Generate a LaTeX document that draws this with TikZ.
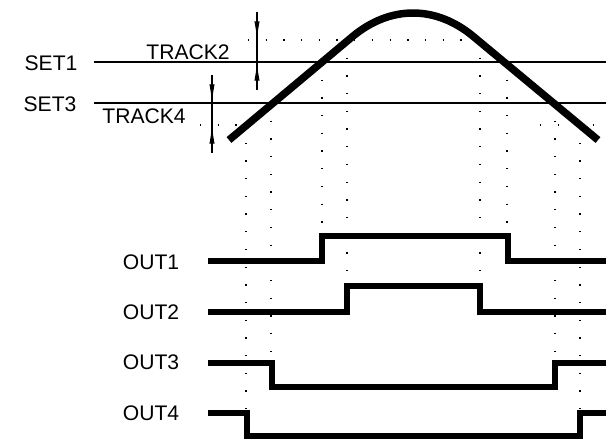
\documentclass[tikz,border=0pt]{standalone}
\usepackage{fontspec}
\setmainfont{Liberation Sans}
\usetikzlibrary{positioning,arrows.meta}
\tikzset{
  lab/.style   = {font=\fontsize{18}{20}\selectfont, inner sep=0pt},
  lvl/.style   = {line width=0.9pt},
  hilf/.style  = {line width=1.1pt, dash pattern=on 1.1pt off 14pt},
  sig/.style   = {line width=5.6pt},
  kurve/.style = {line width=6.4pt},
  mass/.style  = {line width=0.9pt, -{Latex[length=16pt,width=4.5pt]}}
}

\begin{document}
\begin{tikzpicture}[x=0.03cm, y=-0.03cm]  % 1 Einheit = 1 Pixel
  \useasboundingbox (0,0) rectangle (606,439);
  % Beschriftungen
  \node[lab] (set1)   at (51,63)   {SET1};
  \node[lab] (set3)   at (50,104)  {SET3};
  \node[lab] (track2) at (188,52)  {TRACK2};
  \node[lab] (track4) at (144,116) {TRACK4};
  \foreach \i/\y in {1/262,2/312,3/362,4/413}
    \node[lab] (out\i) at (151,\y) {OUT\i};
  % Schaltschwellen
  \coordinate (s1l) at (94,62);  \coordinate (s1r) at (606,62);
  \coordinate (s3l) at (94,103); \coordinate (s3r) at (606,103);
  \draw[lvl] (s1l) -- (s1r);
  \draw[lvl] (s3l) -- (s3r);
  \draw[hilf] (248,40) -- (495,40);           % TRACK2-Niveau
  \draw[hilf] (200,125) -- (252,125);         % TRACK4-Niveau
  \draw[hilf] (540,125) -- (602,125);
  % Hysterese-Bemassung
  \draw[lvl]  (257,12) -- (257,90);
  \draw[mass] (257,12) -- (257,40);
  \draw[mass] (257,90) -- (257,62);
  \draw[lvl]  (212,75) -- (212,153);
  \draw[mass] (212,75) -- (212,103);
  \draw[mass] (212,153) -- (212,125);
  % Eingangssignal
  \draw[kurve] (229,140) -- (352,37) .. controls (390,5) and (436,5) .. (474,37) -- (598,140);
  % Hilfslinien zu den Schaltpunkten
  \foreach \x/\a/\b in {246/125/411, 271/103/361, 322/62/234, 347/40/284,
                        480/40/284, 507/62/234, 555/103/361, 580/125/411}
    \draw[hilf] (\x,\a) -- (\x,\b);
  % Ausgaenge
  \foreach \y/\d/\a/\b in {261/-25/322/508, 312/-26/347/480,
                           363/24/272/555, 413/23/247/580}
    \draw[sig] (208,\y) -- (\a,\y) -- ++(0,\d) -- (\b,\y+\d) -- ++(0,-\d) -- (606,\y);
\end{tikzpicture}
\end{document}
